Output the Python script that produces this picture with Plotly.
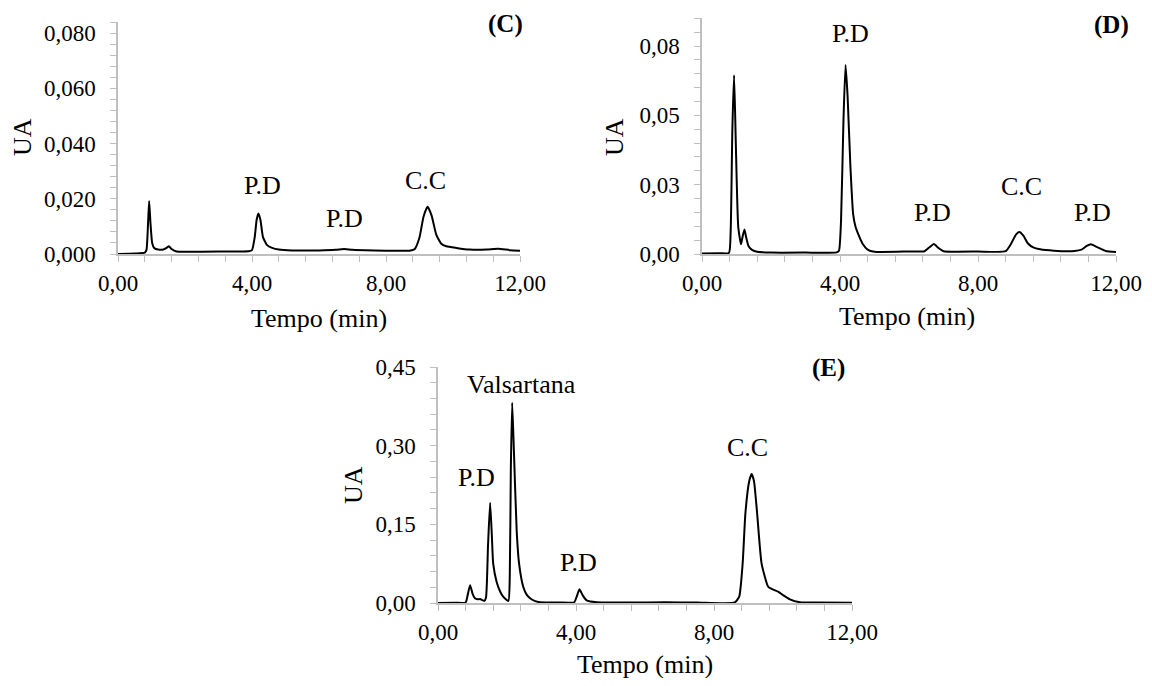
import plotly.graph_objects as go

# ---------------- data ----------------
time_c = [0, 0.5, 0.8, 0.85, 0.9, 0.93, 0.97, 1.02, 1.08, 1.2, 1.35, 1.45, 1.52, 1.6, 1.75, 2.0,
          3.0, 3.9, 4.0, 4.08, 4.14, 4.19, 4.25, 4.33, 4.45, 4.6, 4.8, 5.2, 6.0, 6.5, 6.75, 7.0,
          8.0, 8.7, 8.85, 9.0, 9.12, 9.24, 9.36, 9.5, 9.65, 9.8, 10.1, 10.5, 11.0, 11.35, 11.7, 12.0]
ua_c = [0.0000, 0.0002, 0.0005, 0.0015, 0.0120, 0.0192, 0.0110, 0.0040, 0.0022, 0.0016, 0.0016,
        0.0022, 0.0028, 0.0018, 0.0009, 0.0008, 0.0009, 0.0010, 0.0014, 0.0060, 0.0125, 0.0147,
        0.0125, 0.0060, 0.0032, 0.0022, 0.0016, 0.0013, 0.0013, 0.0015, 0.0018, 0.0015, 0.0012,
        0.0012, 0.0017, 0.0060, 0.0135, 0.0171, 0.0140, 0.0070, 0.0037, 0.0028, 0.0022, 0.0016,
        0.0016, 0.0019, 0.0014, 0.0012]

time_d = [0, 0.5, 0.78, 0.83, 0.88, 0.93, 0.98, 1.05, 1.13, 1.18, 1.23, 1.28, 1.35, 1.45, 1.6, 2.0,
          3.0, 3.9, 3.97, 4.03, 4.1, 4.16, 4.22, 4.3, 4.38, 4.45, 4.55, 4.65, 4.8, 5.0, 6.0, 6.45,
          6.6, 6.72, 6.85, 7.0, 8.0, 8.8, 8.95, 9.1, 9.2, 9.32, 9.45, 9.6, 9.8, 10.2, 10.8, 11.0,
          11.15, 11.27, 11.45, 11.7, 12.0]
ua_d = [0.0002, 0.0003, 0.0004, 0.0080, 0.0450, 0.0645, 0.0400, 0.0099, 0.0035, 0.0065, 0.0088,
        0.0060, 0.0028, 0.0015, 0.0008, 0.0005, 0.0005, 0.0006, 0.0012, 0.0120, 0.0480, 0.0682,
        0.0570, 0.0320, 0.0145, 0.0098, 0.0065, 0.0038, 0.0016, 0.0008, 0.0009, 0.0010, 0.0025,
        0.0036, 0.0022, 0.0010, 0.0009, 0.0010, 0.0035, 0.0070, 0.0079, 0.0065, 0.0038, 0.0024,
        0.0017, 0.0012, 0.0011, 0.0016, 0.0029, 0.0035, 0.0025, 0.0011, 0.0007]

time_e = [0, 0.5, 0.8, 0.86, 0.93, 1.0, 1.07, 1.15, 1.22, 1.34, 1.39, 1.45, 1.51, 1.56, 1.6, 1.7,
          1.8, 1.89, 2.04, 2.08, 2.11, 2.15, 2.2, 2.28, 2.35, 2.47, 2.57, 2.67, 2.8, 2.96, 3.5,
          3.95, 4.02, 4.1, 4.2, 4.31, 4.6, 5.5, 6.6, 7.5, 8.6, 8.73, 8.83, 8.91, 9.02, 9.09, 9.16,
          9.25, 9.38, 9.57, 9.7, 9.86, 10.0, 10.2, 10.49, 11.0, 12.0]
ua_e = [0.0, 0.0005, 0.001, 0.015, 0.034, 0.018, 0.009, 0.007, 0.0075, 0.004, 0.010, 0.110, 0.191,
        0.130, 0.075, 0.040, 0.022, 0.012, 0.004, 0.050, 0.250, 0.382, 0.290, 0.139, 0.075, 0.031,
        0.016, 0.009, 0.004, 0.0015, 0.001, 0.0015, 0.012, 0.026, 0.014, 0.005, 0.0015, 0.001,
        0.0012, 0.001, 0.001, 0.012, 0.075, 0.171, 0.232, 0.246, 0.232, 0.171, 0.075, 0.031, 0.026,
        0.0216, 0.015, 0.007, 0.0015, 0.0008, 0.0005]

x_tickvals = [0, 4, 8, 12]
x_ticktext = ["0,00", "4,00", "8,00", "12,00"]
yc_tickvals = [0, 0.02, 0.04, 0.06, 0.08]
yc_ticktext = ["0,000", "0,020", "0,040", "0,060", "0,080"]
yd_tickvals = [0, 0.025, 0.05, 0.075]
yd_ticktext = ["0,00", "0,03", "0,05", "0,08"]
ye_tickvals = [0, 0.15, 0.30, 0.45]
ye_ticktext = ["0,00", "0,15", "0,30", "0,45"]

labels_c = [("P.D", 4.30, 0.0249), ("P.D", 6.75, 0.0129), ("C.C", 9.19, 0.0267)]
labels_d = [("P.D", 4.29, 0.0796), ("P.D", 6.67, 0.0151), ("C.C", 9.25, 0.0244), ("P.D", 11.33, 0.0151)]
labels_e = [("Valsartana", 2.43, 0.416), ("P.D", 1.13, 0.239), ("P.D", 4.06, 0.0766), ("C.C", 8.96, 0.296)]

# ---------------- figure ----------------
FONT = "Liberation Serif"
OFF = 8                      # page body margin
W, H = 1152 - 2 * OFF, 686 - 2 * OFF
AX_GRAY = "#BFBFBF"

fig = go.Figure()
for t, v, xa, ya in [(time_c, ua_c, "x", "y"), (time_d, ua_d, "x2", "y2"), (time_e, ua_e, "x3", "y3")]:
    fig.add_trace(go.Scatter(x=t, y=v, mode="lines", xaxis=xa, yaxis=ya,
                             line=dict(color="black", width=2, shape="spline", smoothing=0.5),
                             showlegend=False, hoverinfo="skip"))

def px_x(p):
    return (p - OFF) / W

def px_y(p):
    return 1 - (p - OFF) / H

def xaxis_cfg(x0, x1, anchor):
    return dict(domain=[px_x(x0), px_x(x1)], anchor=anchor, range=[0, 12],
                tickmode="array", tickvals=x_tickvals, ticktext=x_ticktext,
                ticks="outside", ticklen=6, tickcolor=AX_GRAY, tickwidth=1,
                minor=dict(tickmode="linear", tick0=0, dtick=0.8, ticks="outside",
                           ticklen=6, tickcolor=AX_GRAY, tickwidth=1),
                showline=True, linecolor=AX_GRAY, linewidth=1.5, showgrid=False,
                zeroline=False, ticklabelstandoff=2, automargin=False,
                tickfont=dict(family=FONT, size=23, color="black"), layer="below traces")

def yaxis_cfg(y_top, y_bot, anchor, rng, tv, tt, mdt):
    return dict(domain=[px_y(y_bot), px_y(y_top)], anchor=anchor, range=rng,
                tickmode="array", tickvals=tv, ticktext=tt,
                ticks="outside", ticklen=6, tickcolor=AX_GRAY, tickwidth=1,
                minor=dict(tickmode="linear", tick0=0, dtick=mdt, ticks="outside",
                           ticklen=6, tickcolor=AX_GRAY, tickwidth=1),
                showline=True, linecolor=AX_GRAY, linewidth=1.5, showgrid=False,
                zeroline=False, ticklabelstandoff=10, automargin=False,
                tickfont=dict(family=FONT, size=23, color="black"), layer="below traces")

fig.update_layout(
    template="none",
    width=W, height=H, margin=dict(l=0, r=0, t=0, b=0, pad=0, autoexpand=False),
    paper_bgcolor="white", plot_bgcolor="white",
    font=dict(family=FONT, color="black"),
    xaxis=xaxis_cfg(118, 520, "y"),
    yaxis=yaxis_cfg(22, 254, "x", [0, 0.084], yc_tickvals, yc_ticktext, 0.004),
    xaxis2=xaxis_cfg(702, 1116, "y2"),
    yaxis2=yaxis_cfg(18.3, 254, "x2", [0, 0.085], yd_tickvals, yd_ticktext, 0.005),
    xaxis3=xaxis_cfg(438, 852, "y3"),
    yaxis3=yaxis_cfg(367, 603, "x3", [0, 0.45], ye_tickvals, ye_ticktext, 0.03),
)

ann = []
for labs, xr, yr in [(labels_c, "x", "y"), (labels_d, "x2", "y2"), (labels_e, "x3", "y3")]:
    for txt, t, v in labs:
        ann.append(dict(text=txt, x=t, y=v, xref=xr, yref=yr, showarrow=False,
                        xanchor="center", yanchor="middle",
                        font=dict(family=FONT, size=26, color="black")))

def paper_text(txt, px, py, size=26, bold=False, angle=0, yanchor="middle"):
    return dict(text=("<b>%s</b>" % txt) if bold else txt, x=px_x(px), y=px_y(py),
                xref="paper", yref="paper", showarrow=False, xanchor="center",
                yanchor=yanchor, textangle=angle,
                font=dict(family=FONT, size=size, color="black"))

ann += [
    paper_text("Tempo (min)", 319, 318),
    paper_text("Tempo (min)", 907, 317),
    paper_text("Tempo (min)", 645, 664),
    paper_text("UA", 22, 137, angle=-90),
    paper_text("UA", 614, 137, angle=-90),
    paper_text("UA", 353, 485, angle=-90),
    paper_text("(C)", 505, 8, size=25, bold=True, yanchor="top"),
    paper_text("(D)", 1111, 9, size=25, bold=True, yanchor="top"),
    paper_text("(E)", 828, 368, size=25, bold=True),
]
fig.update_layout(annotations=ann)

fig.write_html("out.html")
